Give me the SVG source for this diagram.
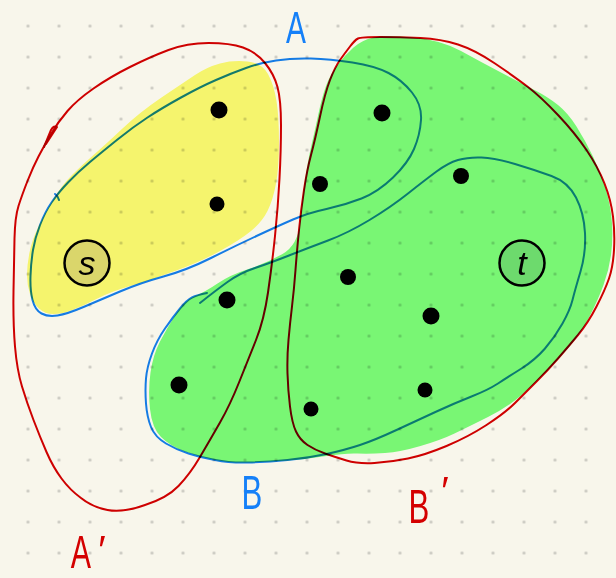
<svg xmlns="http://www.w3.org/2000/svg" width="616" height="578" viewBox="0 0 616 578">
<defs>
<pattern id="dots" x="12.5" y="10.5" width="31" height="31" patternUnits="userSpaceOnUse">
<circle cx="15.5" cy="15.5" r="1.6" fill="#c9c8c0"/>
</pattern>
<style>
.hl{mix-blend-mode:multiply;stroke:none}
.ln{fill:none;stroke-width:2;stroke-linecap:round;stroke-linejoin:round;mix-blend-mode:multiply}
.red{stroke:#d40000}
.blue{stroke:#1580f8}
.pt{fill:#000}
.lbl{font-family:"Liberation Sans",Arial,sans-serif}
.node{stroke:#000;stroke-width:2.5}
.nl{font-family:"Liberation Sans",Arial,sans-serif;font-size:34px;font-style:italic;text-anchor:middle;fill:#000}
</style>
</defs>
<rect width="616" height="578" fill="#f8f6eb"/>
<rect x="12.5" y="10.5" width="589" height="558" fill="url(#dots)"/>

<g id="highlights">
<path id="yellow" class="hl" fill="#fcfd76" d="M220,63.5 Q233,60 247.5,61.5 Q262,63 268,74 Q274,85 276.5,101 Q279,117 279,142 Q279,167 276,183.5 Q273,200 267.5,211 Q262,222 251,231 Q240,240 220,251 Q200,262 175,271 Q150,280 130,286 Q110,292 97.5,298.5 Q85,305 73.5,309.5 Q62,314 53.5,314 Q45,314 39,308.5 Q33,303 30,294 Q27,285 27,275 Q27,265 29.5,252.5 Q32,240 38.5,226.5 Q45,213 53.5,199 Q62,185 72,175 Q82,165 93.5,155 Q105,145 122.5,128.5 Q140,112 161.5,97.5 Q183,83 195,75 Q207,67 220,63.5 Z"/>
<path id="green" class="hl" fill="#7cff7e" d="M373.5,37.5 Q385,35 413,37.5 Q441,40 461,51 Q481,62 501,72.5 Q521,83 534.5,90 Q548,97 558,105 Q568,113 576.5,126.5 Q585,140 593,156.5 Q601,173 606,190 Q611,207 612,223.5 Q613,240 611,255 Q609,270 603.5,285 Q598,300 589.5,316.5 Q581,333 569.5,346.5 Q558,360 546.5,371.5 Q535,383 521.5,395 Q508,407 488,417 Q468,427 454.5,433.5 Q441,440 420.5,446 Q400,452 385,453 Q370,454 357.5,453.5 Q345,453 326.5,456 Q308,459 287.5,460.5 Q267,462 248.5,462.5 Q230,463 215,460 Q200,457 185,451.5 Q170,446 161,437 Q152,428 150,409 Q148,390 150.5,372.5 Q153,355 160,341.5 Q167,328 176,314 Q185,300 195,296 Q205,292 217.5,283.5 Q230,275 248.5,269 Q267,263 282.5,254 Q298,245 300,222.5 Q302,200 305,180 Q308,160 311.5,145 Q315,130 318.5,113.5 Q322,97 326,86 Q330,75 337.5,65 Q345,55 353.5,47.5 Q362,40 373.5,37.5 Z"/>
</g>

<g id="connectors">
<path id="A-prime" class="ln red" d="M168.5,50 Q187,43 208.5,43 Q230,43 243,47.5 Q256,52 265,63 Q274,74 277.5,87 Q281,100 281,125 Q281,150 279.5,178.5 Q278,207 275,236 Q272,265 268,292.5 Q264,320 256,340 Q248,360 239,382.5 Q230,405 220,422.5 Q210,440 200,457 Q190,474 178.5,486 Q167,498 145,505 Q123,513 107.5,510 Q92,507 81,498 Q70,490 61.5,478.5 Q53,467 46.5,452 Q40,437 33.5,420 Q27,403 22,386.5 Q17,370 15,346.5 Q13,323 13.5,291.5 Q14,260 14.5,238.5 Q15,217 18.5,206 Q22,195 27.5,181 Q33,167 38.5,156.5 Q44,146 51,134 Q58,122 67.5,111 Q77,100 93.5,88.5 Q110,77 130,67 Q150,57 168.5,50 Z"/>
<path class="ln red" d="M44,147 L51,130 Q54,125 57,127 L46,144"/>
<path id="B-prime" class="ln red" d="M358,38.5 Q361,37 380.5,37 Q400,37 420.5,38 Q441,39 458,44.5 Q475,50 495,63.5 Q515,77 528,87 Q541,97 558,115 Q575,133 586.5,150 Q598,167 604.5,183.5 Q611,200 613,216.5 Q615,233 614,250 Q613,267 609,278.5 Q605,290 596.5,306.5 Q588,323 578,335 Q568,347 558,358.5 Q548,370 536.5,381.5 Q525,393 515,403 Q505,413 486.5,425 Q468,437 446.5,446 Q425,455 408,458.5 Q391,462 374.5,463 Q358,464 346.5,460.5 Q335,457 325,453.5 Q315,450 307.5,445 Q300,440 296,431.5 Q292,423 290,406.5 Q288,390 287.5,373.5 Q287,357 288.5,340 Q290,323 292,306.5 Q294,290 295.5,270 Q297,250 299,230 Q301,210 304,190 Q307,170 311,155 Q315,140 320,116.5 Q325,93 330,80 Q335,67 340,60 Q345,53 350,46.5 Q355,40 358,38.5 Z"/>
<path id="A" class="ln blue" d="M246,68 Q260,63 276,60.5 Q292,58 311,58.5 Q330,59 352.5,62.5 Q375,66 388.5,73 Q402,80 412,92.5 Q422,105 421,120 Q420,135 414,149 Q408,163 393,177.5 Q378,192 361.5,198.5 Q345,205 326.5,209 Q308,213 293,219.5 Q278,226 256.5,236 Q235,246 211,258 Q187,270 163.5,276.5 Q140,283 120,291.5 Q100,300 83.5,307 Q67,314 57.5,315.5 Q48,317 41.5,313.5 Q35,310 32.5,300 Q30,290 30.5,276 Q31,262 33,250 Q35,238 40,225 Q45,212 51.5,202.5 Q58,193 68,182.5 Q78,172 90,162 Q102,152 117.5,139.5 Q133,127 147.5,117.5 Q162,108 181,97.5 Q200,87 216,80 Q232,73 246,68 Z"/>
<path class="ln blue" d="M55,194 Q58,196 59,200"/>
<path id="B" class="ln blue" d="M200,303 Q215,291 227.5,282 Q240,273 255,268 Q270,263 289,255.5 Q308,248 328,240.5 Q348,233 369.5,220 Q391,207 408,193.5 Q425,180 436.5,171.5 Q448,163 458,160 Q468,157 481.5,157.5 Q495,158 515,164 Q535,170 551.5,176 Q568,182 576,197.5 Q584,213 585,233 Q586,253 580.5,271.5 Q575,290 572.5,300 Q570,310 562.5,323.5 Q555,337 545,348.5 Q535,360 521.5,368.5 Q508,377 498,383.5 Q488,390 471.5,396.5 Q455,403 436.5,411.5 Q418,420 396.5,430 Q375,440 360,445 Q345,450 326.5,454 Q308,458 287.5,460 Q267,462 248.5,462.5 Q230,463 215,460 Q200,457 188.5,453.5 Q177,450 166,443.5 Q155,437 151,427 Q147,417 146,403.5 Q145,390 146,378.5 Q147,367 152,353.5 Q157,340 165,328.5 Q173,317 180,308.5 Q187,300 192,297.5 Q197,295 207,293"/>
</g>

<g id="points">
<circle class="pt" cx="219" cy="110" r="8.5"/>
<circle class="pt" cx="217" cy="204" r="7.5"/>
<circle class="pt" cx="382" cy="113" r="8.5"/>
<circle class="pt" cx="320" cy="184" r="8"/>
<circle class="pt" cx="461" cy="176" r="8"/>
<circle class="pt" cx="348" cy="277" r="8"/>
<circle class="pt" cx="227" cy="300" r="8.5"/>
<circle class="pt" cx="431" cy="316" r="8.5"/>
<circle class="pt" cx="179" cy="385" r="8.5"/>
<circle class="pt" cx="425" cy="390" r="7.5"/>
<circle class="pt" cx="311" cy="409" r="7.5"/>
</g>

<g id="node-s">
<circle class="node" cx="87" cy="263" r="22.5" fill="#dad66b"/>
<text class="nl" x="87" y="275">s</text>
</g>
<g id="node-t">
<circle class="node" cx="522" cy="263" r="22.5" fill="#6dda6d"/>
<text class="nl" x="522" y="275">t</text>
</g>

<g id="labels">
<text class="lbl" fill="#1580f8" font-size="44" text-anchor="middle" transform="translate(296,43) scale(0.68,1)">A</text>
<text class="lbl" fill="#1580f8" font-size="48" text-anchor="middle" transform="translate(252,509) scale(0.65,1)">B</text>
<text class="lbl" fill="#d40000" font-size="38" text-anchor="middle" transform="translate(81,568) scale(0.8,1.2)">A</text>
<text class="lbl" fill="#d40000" font-size="40" text-anchor="middle" x="102" y="564">′</text>
<text class="lbl" fill="#d40000" font-size="48" text-anchor="middle" transform="translate(419,523) scale(0.65,1)">B</text>
<text class="lbl" fill="#d40000" font-size="40" text-anchor="middle" x="445" y="505">′</text>
</g>
</svg>
